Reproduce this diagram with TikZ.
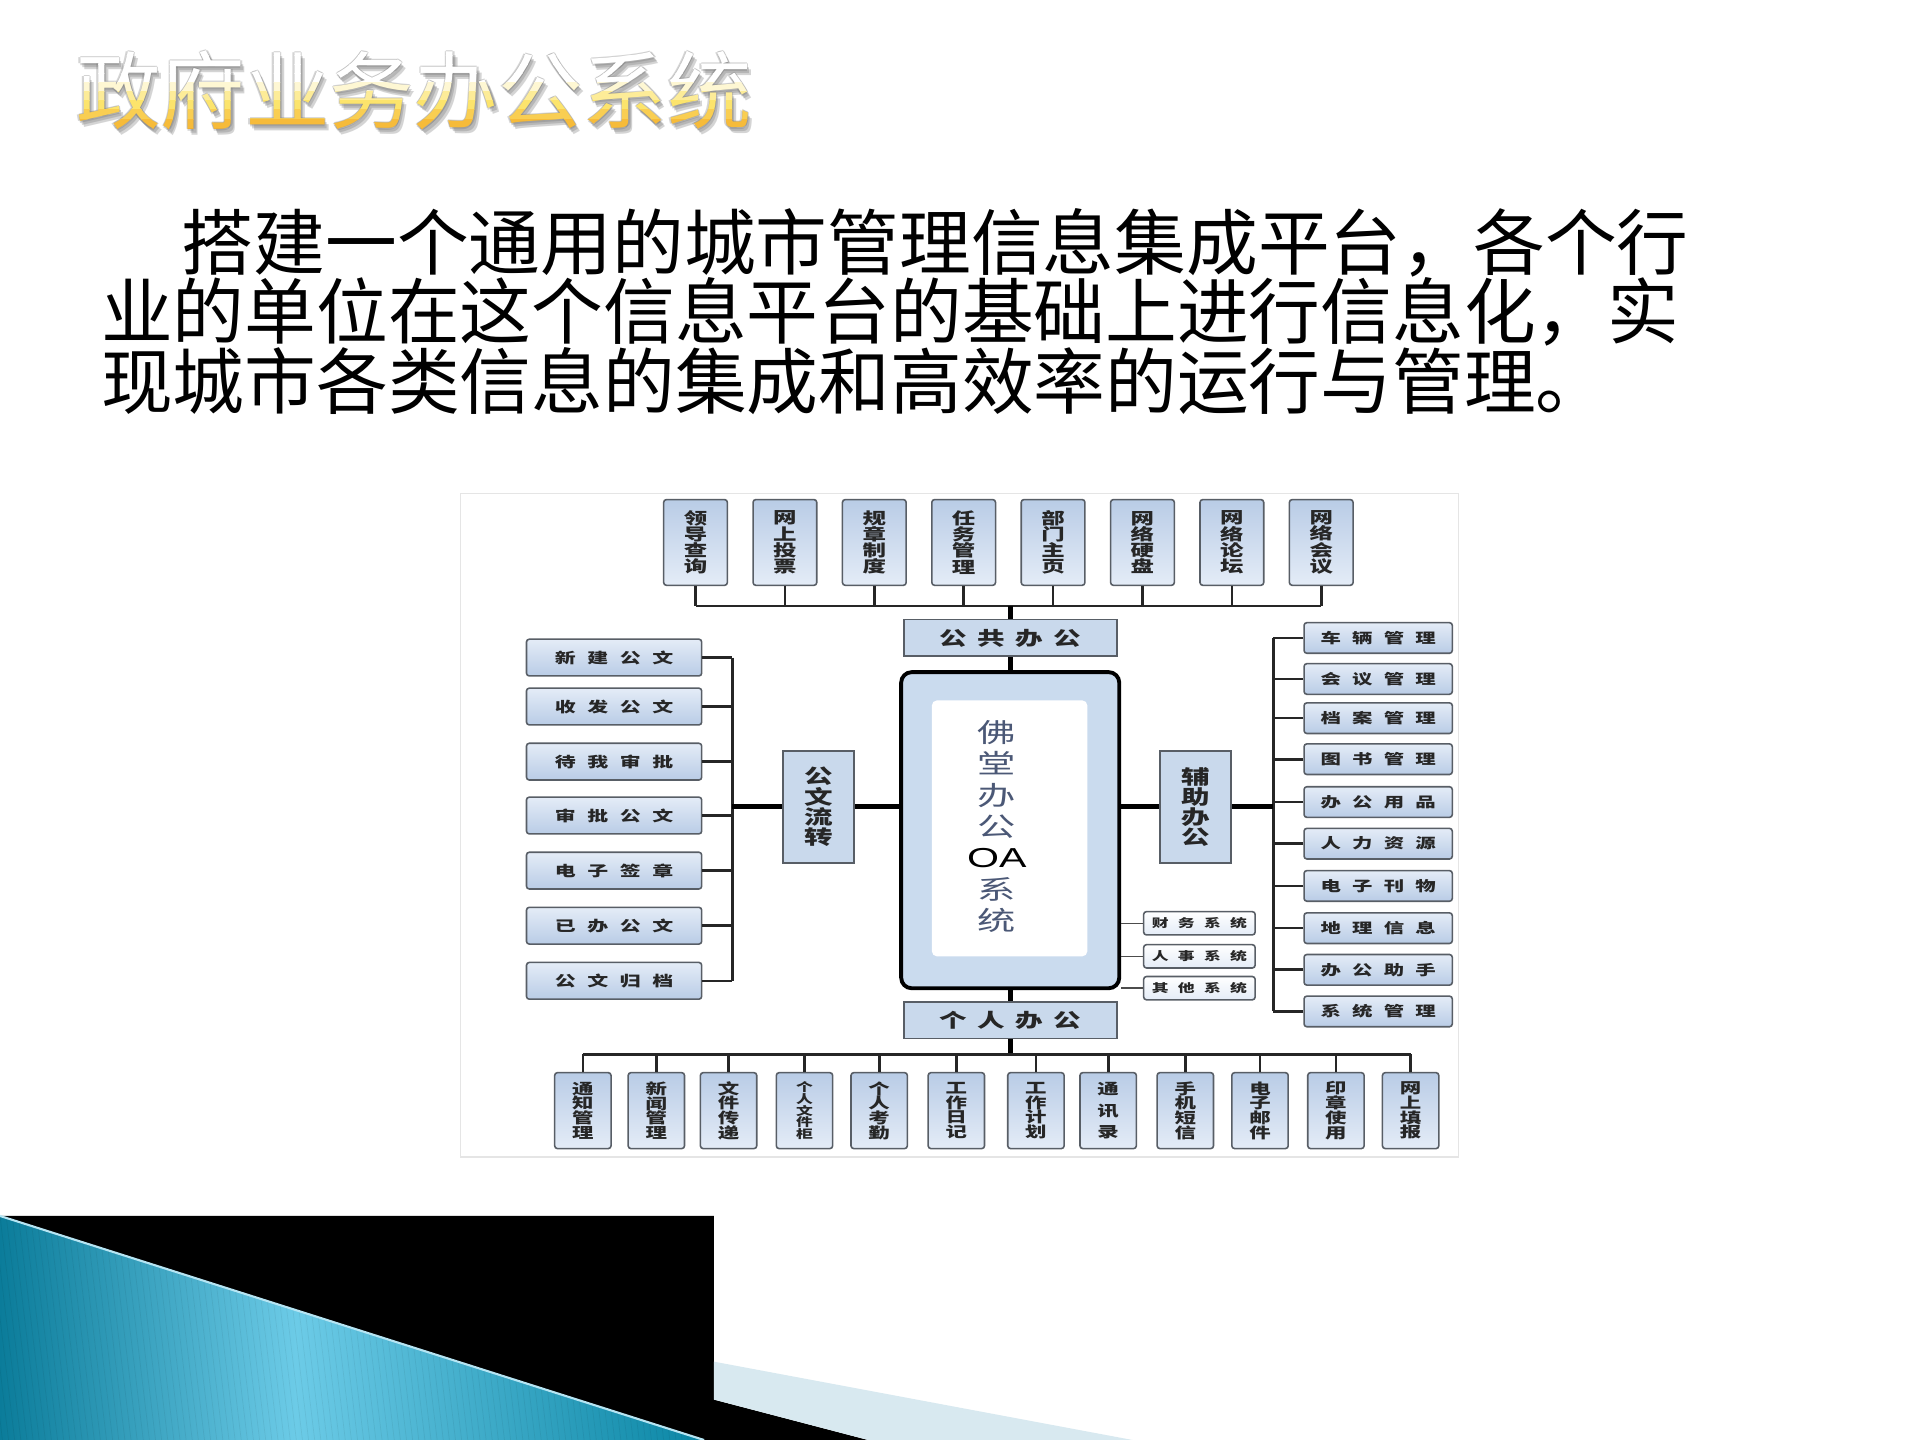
\documentclass[tikz,border=0pt]{standalone}
\usepackage{fontspec}
\usepackage{xcolor}
\usepackage{tikz}
\usetikzlibrary{positioning, calc}
\newfontfamily\cjk{Noto Sans CJK SC}
\newfontfamily\diagfont[FakeStretch=1.45]{Noto Sans CJK SC}
\newfontfamily\diagwide[FakeStretch=1.45,LetterSpace=80]{Noto Sans CJK SC}
\newfontfamily\diaghub[FakeStretch=1.45,LetterSpace=55]{Noto Sans CJK SC}
\newfontfamily\latinwide[FakeStretch=1.5]{Liberation Sans}
\newcommand{\pxu}{0.3484pt}
\definecolor{boxpale}{HTML}{E4ECF7}
\definecolor{boxdeep}{HTML}{B9CCE6}
\definecolor{boxedge}{HTML}{585E66}
\definecolor{hubfill}{HTML}{C9D9EC}
\definecolor{oafill}{HTML}{CADBEE}
\definecolor{oatext}{HTML}{4B5876}
\definecolor{titlegold}{HTML}{F4AE2A}
\definecolor{titleyellow}{HTML}{FCE46C}
\definecolor{tealdark}{HTML}{0B7C9A}
\definecolor{teallight}{HTML}{6CCBE7}
\definecolor{tealedge}{HTML}{0A86A5}
\definecolor{bandblue}{HTML}{D8E9F0}
\pgfdeclarehorizontalshading{tealfade}{100bp}{color(0bp)=(tealdark); color(25bp)=(tealdark); color(46bp)=(teallight); color(75bp)=(tealedge); color(100bp)=(tealedge)}
\tikzset{
  vbox/.style={draw=boxedge,line width=0.45pt,rounded corners=0.8pt,top color=boxdeep,bottom color=boxpale,inner sep=0pt,align=center,text=black!85},
  hbox/.style={draw=boxedge,line width=0.45pt,rounded corners=0.8pt,top color=boxpale,bottom color=boxdeep,inner sep=0pt,text=black!85},
  leftbox/.style={hbox,minimum width=143*\pxu,minimum height=30*\pxu,font=\diagwide\bfseries\fontsize{4.1}{4.5}\selectfont},
  rightbox/.style={hbox,minimum width=121*\pxu,minimum height=25*\pxu,font=\diagwide\bfseries\fontsize{4}{4.5}\selectfont},
  sysbox/.style={hbox,top color=white,bottom color=boxpale,minimum width=91*\pxu,minimum height=19*\pxu,font=\diagwide\bfseries\fontsize{3.3}{3.6}\selectfont},
  hubbox/.style={draw=boxedge,line width=0.5pt,fill=hubfill,inner sep=0pt,text=black!85},
  hubh/.style={hubbox,minimum width=174*\pxu,minimum height=30*\pxu,font=\diaghub\bfseries\fontsize{5.4}{6}\selectfont},
  hubv/.style={hubbox,minimum width=58*\pxu,minimum height=91*\pxu,align=center,font=\diagfont\bfseries\fontsize{5.6}{5.75}\selectfont},
  busline/.style={line width=0.75pt,black!85},
  mainline/.style={line width=1.4pt,black},
  thinline/.style={line width=0.4pt,black!70},
  titletext/.style={font=\cjk\fontsize{24}{24}\selectfont,inner sep=0pt},
  bodytext/.style={font=\cjk\fontsize{20.4}{20.4}\selectfont,inner sep=0pt,anchor=west},
}
\begin{document}
\begin{tikzpicture}[x=0.012245cm,y=-0.012245cm]
  \useasboundingbox (0,0) rectangle (1568,1176);
  \fill[white] (0,0) rectangle (1568,1176);
  % title
  \foreach \dx/\dy [count=\g] in {2/3, 3.5/4.5, -1.2/0, 1.2/0, 0/-1.2, 0/1.2}
    \node[titletext,text=black!55,opacity=0.3] (ttlglow\g) at ({338+\dx},{74+\dy}) {政府业务办公系统};
  \foreach \col [count=\k from 0] in {white,white,white,white,titleyellow!30!white,titleyellow!70!white,titleyellow,titlegold!40!titleyellow,titlegold!75!titleyellow,titlegold}{
    \begin{scope}
      \clip (0,{38+7.4*\k}) rectangle (800,{38+7.4*(\k+1)});
      \node[titletext,text=\col] (ttl\k) at (338,74) {政府业务办公系统};
    \end{scope}
  }
  % text
  \node[bodytext] (line1) at (148,198) {搭建一个通用的城市管理信息集成平台，各个行};
  \node[bodytext] (line2) at (82,255) {业的单位在这个信息平台的基础上进行信息化，实};
  \node[bodytext] (line3) at (82,311) {现城市各类信息的集成和高效率的运行与管理。};
  % diagram
  \draw[black!10,fill=white] (376,403) rectangle (1191,945);
  \foreach \lbl [count=\i] in {{领\\导\\查\\询},{网\\上\\投\\票},{规\\章\\制\\度},{任\\务\\管\\理},{部\\门\\主\\页},{网\\络\\硬\\盘},{网\\络\\论\\坛},{网\\络\\会\\议}}
    \node[vbox,minimum width=52*\pxu,minimum height=70*\pxu,font=\diagfont\bfseries\fontsize{4.6}{4.6}\selectfont] (t\i) at ({568+73*(\i-1)},443) {\lbl};
  \foreach \bx/\lbl/\fs/\bs [count=\i] in {476/{通\\知\\管\\理}/4.2/4.2, 536/{新\\闻\\管\\理}/4.2/4.2, 595/{文\\件\\传\\递}/4.2/4.2, 657/{个\\人\\文\\件\\柜}/3.3/3.3, 718/{个\\人\\考\\勤}/4.2/4.2, 781/{工\\作\\日\\记}/4.2/4.2, 846/{工\\作\\计\\划}/4.2/4.2, 905/{通\\讯\\录}/4.2/6, 968/{手\\机\\短\\信}/4.2/4.2, 1029/{电\\子\\邮\\件}/4.2/4.2, 1091/{印\\章\\使\\用}/4.2/4.2, 1152/{网\\上\\填\\报}/4.2/4.2}
    \node[vbox,minimum width=46*\pxu,minimum height=62*\pxu,font=\diagfont\bfseries\fontsize{\fs}{\bs}\selectfont] (b\i) at (\bx,907) {\lbl};
  \foreach \ly/\lbl [count=\i] in {537/新建公文, 577/收发公文, 622/待我审批, 666/审批公文, 711/电子签章, 756/已办公文, 801/公文归档}
    \node[leftbox] (l\i) at (501.5,\ly) {\lbl};
  \foreach \ry/\lbl [count=\i] in {521/车辆管理, 554.5/会议管理, 586.5/档案管理, 620/图书管理, 655/办公用品, 689/人力资源, 723.5/电子刊物, 758/地理信息, 792/办公助手, 826/系统管理}
    \node[rightbox] (r\i) at (1125.5,\ry) {\lbl};
  \node[hubh] (pub) at (825,521) {公共办公};
  \node[hubh] (pers) at (825,833) {个人办公};
  \node[hubv] (flow) at (668.5,659) {公\\文\\流\\转};
  \node[hubv] (aux) at (976.5,659) {辅\\助\\办\\公};
  \node[draw=black,line width=1.1pt,rounded corners=3pt,fill=oafill,minimum width=178*\pxu,minimum height=258*\pxu] (oa) at (825,678) {};
  \node[fill=white,rounded corners=1.5pt,minimum width=127*\pxu,minimum height=209*\pxu] (oainner) at (824.5,676.5) {};
  \node[align=center,text=oatext,inner sep=0pt,font=\diagfont\fontsize{7.5}{8.9}\selectfont] (oalabel) at (814,675) {佛\\堂\\办\\公\\{\latinwide\fontsize{7.8}{8.9}\selectfont\textcolor{black}{OA}}\\系\\统};
  \foreach \sy/\lbl [count=\i] in {754/财务系统, 781/人事系统, 807/其他系统}
    \node[sysbox] (s\i) at (979.5,\sy) {\lbl};
  % connectors
  \coordinate (topbus) at (825,495);
  \coordinate (botbus) at (825,861);
  \coordinate (leftbus) at (598,659);
  \coordinate (rightbus) at (1040,659);
  \foreach \i in {1,...,8} \draw[busline] (t\i.south) -- (t\i.south |- topbus);
  \draw[busline] (t1.south |- topbus) -- (t8.south |- topbus);
  \draw[mainline] (topbus) -- (pub.north);
  \draw[mainline] (pub) -- (oa);
  \draw[mainline] (oa) -- (pers);
  \draw[mainline] (pers.south) -- (botbus);
  \foreach \i in {1,...,12} \draw[busline] (b\i.north) -- (b\i.north |- botbus);
  \draw[busline] (b1.north |- botbus) -- (b12.north |- botbus);
  \foreach \i in {1,...,7} \draw[busline] (l\i.east) -- (l\i.east -| leftbus);
  \draw[busline] (l1.east -| leftbus) -- (l7.east -| leftbus);
  \draw[mainline] (flow) -- (leftbus);
  \draw[mainline] (oa.west |- flow) -- (flow);
  \foreach \i in {1,...,10} \draw[busline] (r\i.west) -- (r\i.west -| rightbus);
  \draw[busline] (r1.west -| rightbus) -- (r10.west -| rightbus);
  \draw[mainline] (aux) -- (rightbus);
  \draw[mainline] (oa.east |- aux) -- (aux);
  \foreach \i in {1,...,3} \draw[thinline] (s\i.west) -- (s\i.west -| oa.east);
  % corner
  \fill[black] (0,993) -- (583,993) -- (583,1143) -- (709,1176) -- (0,1176) -- cycle;
  \shade[shading=tealfade] (0,993) -- (575,1176) -- (0,1176) -- cycle;
  \begin{scope}
    \clip (0,993) -- (575,1176) -- (0,1176) -- cycle;
    \foreach \k in {0,...,125}
      \draw[black,opacity=0.06,line width=0.2pt] ({-30+5*\k},993) -- ({-8+5*\k},1176);
  \end{scope}
  \draw[teallight!50!white,line width=0.6pt] (0,993) -- (575,1176);
  \fill[bandblue] (583,1112) -- (925,1176) -- (709,1176) -- (583,1143) -- cycle;
\end{tikzpicture}
\end{document}
